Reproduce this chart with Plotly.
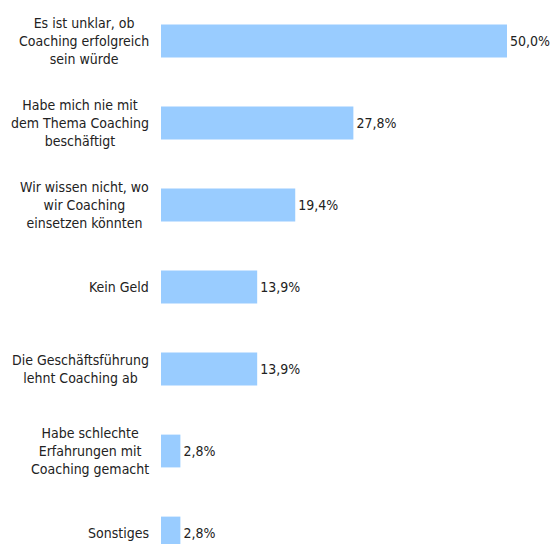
import plotly.graph_objects as go

# Gründe gegen Coaching (Anteil der Nennungen in %)
categories = [
    "Es ist unklar, ob<br>Coaching erfolgreich<br>sein würde",
    "Habe mich nie mit<br>dem Thema Coaching<br>beschäftigt",
    "Wir wissen nicht, wo<br>wir Coaching<br>einsetzen könnten",
    "Kein Geld",
    "Die Geschäftsführung<br>lehnt Coaching ab",
    "Habe schlechte<br>Erfahrungen mit<br>Coaching gemacht",
    "Sonstiges",
]
values = [50.0, 27.8, 19.4, 13.9, 13.9, 2.8, 2.8]

FONT = "DejaVu Sans Condensed, Arial, sans-serif"
labels = [f"{v:.1f}".replace(".", ",") + "%" for v in values]
ypos = list(range(len(categories)))

fig = go.Figure(
    go.Bar(
        x=values,
        y=ypos,
        orientation="h",
        marker=dict(color="#99CCFF", line=dict(width=0)),
        width=0.4,
        text=labels,
        textposition="outside",
        textfont=dict(family=FONT, size=14, color="#222222"),
        cliponaxis=False,
    )
)

# Category labels, centred line by line and right-aligned against the bars
for yi, cat in zip(ypos, categories):
    fig.add_annotation(
        x=0, y=yi, xref="x", yref="y",
        text=cat, showarrow=False,
        xanchor="right", yanchor="middle", align="center",
        xshift=-10,
        font=dict(family=FONT, size=14, color="#222222"),
    )

fig.update_layout(
    width=551, height=544,
    margin=dict(l=161, r=0, t=0, b=0),
    paper_bgcolor="white", plot_bgcolor="white",
    showlegend=False,
    xaxis=dict(range=[0, 56.36], visible=False, fixedrange=True),
    yaxis=dict(range=[6.134, -0.5], visible=False, fixedrange=True),
)

fig.write_html("out.html")
